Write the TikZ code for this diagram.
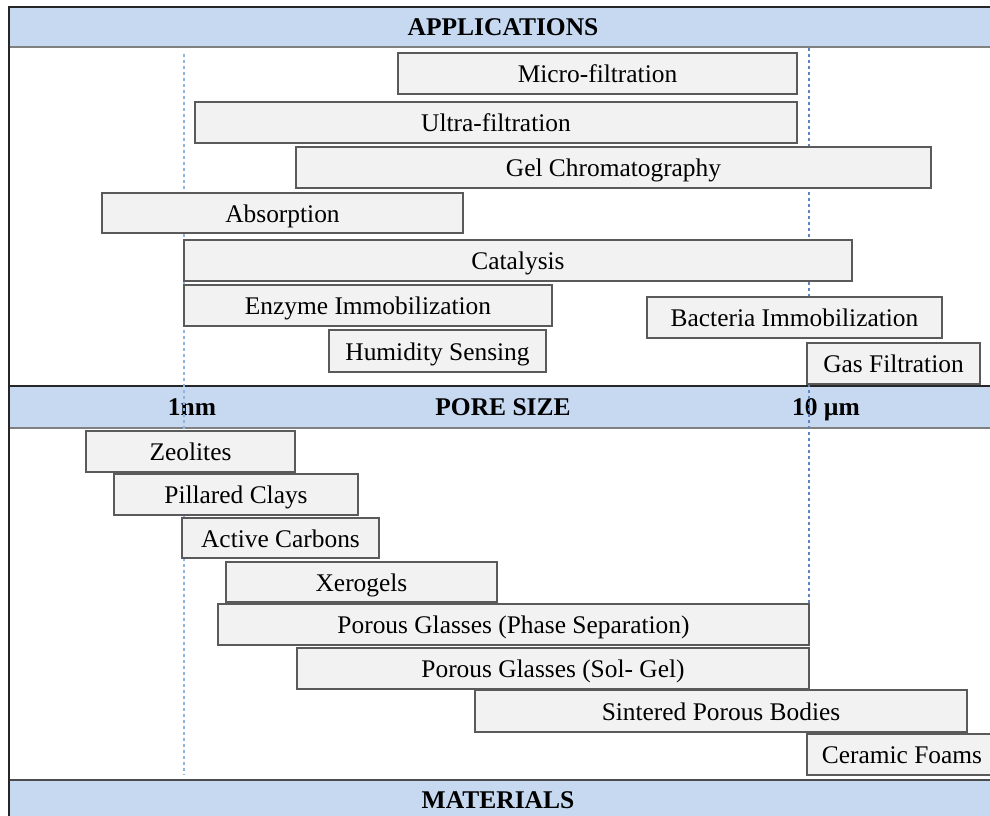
\documentclass[tikz,border=0pt]{standalone}
\usepackage{fontspec}
\setmainfont{Liberation Serif}
\definecolor{bandfill}{HTML}{C6D9F1}
\definecolor{boxfill}{HTML}{F2F2F2}
\definecolor{boxline}{HTML}{5A5A5A}
\definecolor{dashA}{HTML}{8EB4E3}
\definecolor{dashB}{HTML}{5B87C0}
\tikzset{
  rbox/.style={draw=boxline, fill=boxfill, line width=1.3pt, inner sep=0pt, anchor=center,
    text height=18pt, text depth=-2pt,
    font=\fontsize{25.4}{29}\selectfont},
  bandlabel/.style={inner sep=0pt, text height=17pt, text depth=-1pt,
    font=\fontsize{25.5}{29}\selectfont\bfseries},
  banddark/.style={draw=black!85, line width=1.5pt},
  bandlight/.style={draw=black!50, line width=1.5pt},
  guide/.style={dashed, dash pattern=on 3pt off 3pt, line width=1.1pt}
}
\begin{document}
\begin{tikzpicture}[x=1pt,y=-1pt]
\useasboundingbox (0,0) rectangle (990,816);
\clip (0,0) rectangle (990,816);
% white background
\fill[white] (0,0) rectangle (990,816);
% bands
\fill[bandfill] (9,7) rectangle (1000,47);
\fill[bandfill] (9,386) rectangle (1000,428);
\fill[bandfill] (9,780) rectangle (1000,830);
\draw[banddark] (9,7) -- (1000,7);
\draw[bandlight] (9,47) -- (1000,47);
\draw[banddark] (9,386) -- (1000,386);
\draw[bandlight] (9,428) -- (1000,428);
\draw[draw=black!70, line width=1.5pt] (9,780) -- (1000,780);
\draw[draw=black!85, line width=2.2pt] (9,6) -- (9,830);
% band labels
\node[bandlabel] (apps) at (503,27) {APPLICATIONS};
\node[bandlabel] (pore) at (503,407) {PORE SIZE};
\node[bandlabel] (nm) at (192,407) {1nm};
\node[bandlabel] (um) at (826,407) {10 µm};
\node[bandlabel] (mats) at (498,800) {MATERIALS};
% guides
\coordinate (gA1) at (184,54);
\coordinate (gA2) at (184,775);
\coordinate (gB1) at (809,48);
\coordinate (gB2) at (809,775);
\draw[guide, dashA] (gA1) -- (gA2);
\draw[guide, dashB] (gB1) -- (gB2);
% application boxes
\node[rbox, minimum width=399pt, minimum height=41pt] (micro) at (597.5,73.5) {Micro-filtration};
\node[rbox, minimum width=602pt, minimum height=41pt] (ultra) at (496,122.5) {Ultra-filtration};
\node[rbox, minimum width=635pt, minimum height=41pt] (gel) at (613.5,167.5) {Gel Chromatography};
\node[rbox, minimum width=361pt, minimum height=40pt] (absorp) at (282.5,213) {Absorption};
\node[rbox, minimum width=668pt, minimum height=41pt] (cata) at (518,260.5) {Catalysis};
\node[rbox, minimum width=368pt, minimum height=41pt] (enzyme) at (368,305.5) {Enzyme Immobilization};
\node[rbox, minimum width=295pt, minimum height=41pt] (bacteria) at (794.5,317.5) {Bacteria Immobilization};
\node[rbox, minimum width=217pt, minimum height=42pt] (humid) at (437.5,351) {Humidity Sensing};
\node[rbox, minimum width=173pt, minimum height=41pt] (gas) at (893.5,363.5) {Gas Filtration};
% material boxes
\node[rbox, minimum width=209pt, minimum height=41pt] (zeo) at (190.5,451.5) {Zeolites};
\node[rbox, minimum width=244pt, minimum height=41pt] (clay) at (236,494.5) {Pillared Clays};
\node[rbox, minimum width=197pt, minimum height=40pt] (carbon) at (280.5,538) {Active Carbons};
\node[rbox, minimum width=271pt, minimum height=40pt] (xero) at (361.5,582) {Xerogels};
\node[rbox, minimum width=591pt, minimum height=41pt] (pgphase) at (513.5,624.5) {Porous Glasses (Phase Separation)};
\node[rbox, minimum width=512pt, minimum height=41pt] (pgsol) at (553,668.5) {Porous Glasses (Sol- Gel)};
\node[rbox, minimum width=492pt, minimum height=42pt] (sinter) at (721,711) {Sintered Porous Bodies};
\node[rbox, minimum width=190pt, minimum height=41pt] (foam) at (902,754.5) {Ceramic Foams};
\end{tikzpicture}
\end{document}
